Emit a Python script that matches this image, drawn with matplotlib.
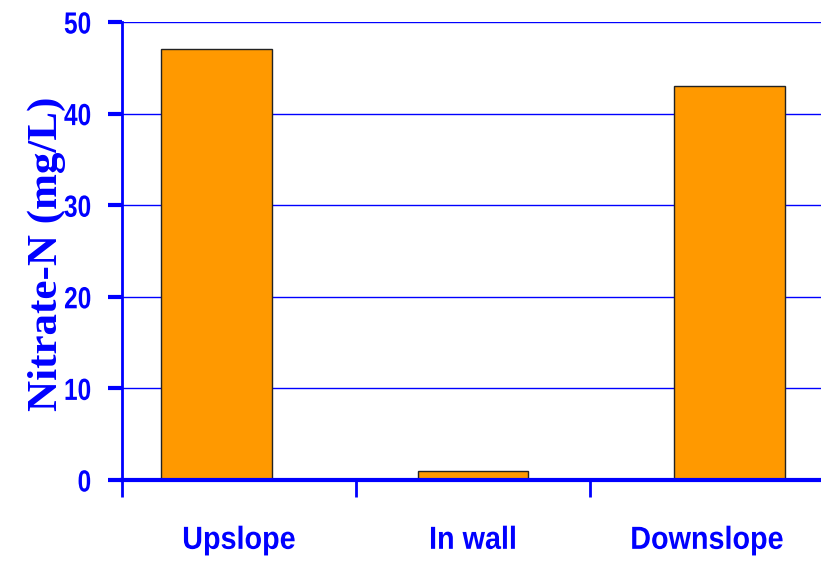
import matplotlib
matplotlib.use("Agg")
import matplotlib.pyplot as plt
import numpy as np
from matplotlib.patheffects import AbstractPathEffect
from matplotlib.transforms import Affine2D

categories = ["Upslope", "In wall", "Downslope"]
nitrate = [47, 1, 43]
yticks = [0, 10, 20, 30, 40, 50]

BLUE = "#0000FF"
ORANGE = "#FF9900"
sans = ["Liberation Sans", "DejaVu Sans"]


class Squash(AbstractPathEffect):
    """Horizontally condense glyphs (text stays a Text object)."""

    def __init__(self, sx, anchor="center"):
        super().__init__()
        self.sx = sx
        self.anchor = anchor

    def draw_path(self, renderer, gc, tpath, affine, rgbFace=None):
        ext = tpath.get_extents()
        if self.anchor == "right":
            cx = ext.x1
        elif self.anchor == "left":
            cx = 0.0
        else:
            cx = (ext.x0 + ext.x1) / 2
        pre = Affine2D().translate(-cx, 0).scale(self.sx, 1).translate(cx, 0)
        renderer.draw_path(gc, tpath, pre + affine, rgbFace)


fig = plt.figure(figsize=(8.21, 5.61), dpi=100)
W, H = 821, 561
left, right, top, bottom = 122, 824, 22, 480
ax = fig.add_axes([left / W, (H - bottom) / H, (right - left) / W, (bottom - top) / H])

n = len(categories)
centers = np.arange(n)
# bars spread slightly more than the category centers (as in the original)
bar_x = centers + (centers - (n - 1) / 2) * 0.095
ax.bar(bar_x, nitrate, width=0.474, color=ORANGE, edgecolor="#222222", linewidth=1.0, zorder=3)

ax.set_xlim(-0.5, n - 0.5)
ax.set_ylim(0, 50)
ax.set_yticks(yticks)
ax.yaxis.grid(True, color=BLUE, linewidth=1.0, zorder=0)
ax.set_axisbelow(True)

# x: category boundaries as ticks, labels at centers
ax.set_xticks(np.arange(n + 1) - 0.5)
ax.set_xticklabels([])
ax.set_xticks(centers, minor=True)
ax.set_xticklabels(categories, minor=True)
ax.tick_params(axis="x", which="major", direction="out", length=12, width=2, color=BLUE)
ax.tick_params(axis="x", which="minor", length=0, pad=33)
for lab in ax.get_xticklabels(minor=True):
    lab.set_fontfamily(sans)
    lab.set_fontweight("bold")
    lab.set_fontsize(23)
    lab.set_color(BLUE)
    lab.set_path_effects([Squash(0.9)])

ax.tick_params(axis="y", direction="out", length=10, width=3, color=BLUE, pad=12)
for lab in ax.get_yticklabels():
    lab.set_fontfamily(sans)
    lab.set_fontweight("bold")
    lab.set_fontsize(22)
    lab.set_color(BLUE)
    lab.set_path_effects([Squash(0.8, anchor="right")])

for s in ["top", "right"]:
    ax.spines[s].set_visible(False)
ax.spines["left"].set_color(BLUE)
ax.spines["left"].set_linewidth(2)
ax.spines["bottom"].set_color(BLUE)
ax.spines["bottom"].set_linewidth(3)
ax.spines["bottom"].set_zorder(4)

fig.text(47 / W, (H - 254) / H, "Nitrate-N (mg/L)", rotation=90, ha="center", va="center",
         fontfamily=["Liberation Serif", "DejaVu Serif"], fontweight="bold", fontsize=31, color=BLUE)

fig.savefig("out.png", dpi=100)
